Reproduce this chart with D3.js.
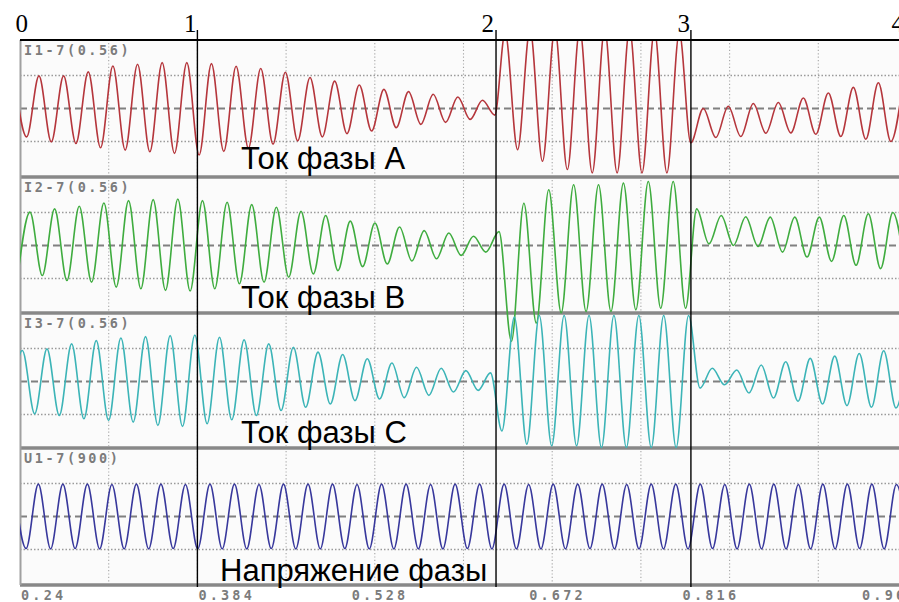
<!DOCTYPE html>
<html>
<head>
<meta charset="utf-8">
<script src="https://cdnjs.cloudflare.com/ajax/libs/d3/7.8.5/d3.min.js"></script>
<style>
  body { margin: 0; background: #fff; }
</style>
</head>
<body>
<script>
const width = 899;
const height = 602;

// ---- data ----
const channelNames = ["I1-7(0.56)", "I2-7(0.56)", "I3-7(0.56)", "U1-7(900)"];
const channelCaptions = ["Ток фазы А", "Ток фазы В", "Ток фазы С", "Напряжение фазы"];

const tickValues = [0.24, 0.384, 0.528, 0.672, 0.816, 0.96];
const tickLabels = ["0.24", "0.384", "0.528", "0.672", "0.816", "0.96"];

const markerTimes = [0.24, 0.384, 0.6264, 0.7846, 0.9584];
const markerLabels = ["0", "1", "2", "3", "4"];

// wave extremes (alternating peak / trough), 1 = dotted grid level
// each channel: start time of first extreme per segment, spacing, values
const iaStart = [0.2354, 0.6338, 0.7845];
const iaStep = [0.01, 0.0101, 0.01015];
const ia1 = [0.95, -0.86, 0.99, -1.01, 0.99, -1.06, 1.11, -1.19, 1.29, -1.26,
  1.34, -1.31, 1.39, -1.36, 1.39, -1.41, 1.36, -1.30, 1.28, -1.20,
  1.21, -1.08, 1.10, -0.98, 0.94, -0.86, 0.83, -0.76, 0.71, -0.68,
  0.58, -0.58, 0.51, -0.48, 0.43, -0.42, 0.35, -0.33, 0.25, -0.20];
const ia2 = [2.3, -1.25, 2.4, -1.6, 2.4, -1.85, 2.4, -1.95, 2.4, -1.95, 2.4, -1.95, 2.35, -1.95, 2.3];
const ia3 = [-1.04, 0.0, -0.88, 0.07, -0.85, 0.15, -0.75, 0.18, -0.74, 0.32, -0.78, 0.47, -0.85, 0.64, -0.93, 0.78, -1.0, 0.87];

const ibStart = [0.2381, 0.6288, 0.7893];
const ibStep = [0.01, 0.0101, 0.00995];
const ib1 = [-0.95, 1.01, -0.91, 1.11, -1.06, 1.19, -1.11, 1.29, -1.26, 1.36,
  -1.31, 1.39, -1.36, 1.41, -1.38, 1.36, -1.31, 1.31, -1.16, 1.24,
  -1.11, 1.16, -0.96, 1.04, -0.86, 0.91, -0.76, 0.74, -0.64, 0.68,
  -0.56, 0.56, -0.47, 0.45, -0.40, 0.38, -0.30, 0.28, -0.20];
const ib2 = [0.42, -2.9, 1.28, -2.35, 1.69, -2.04, 1.84, -2.0, 1.84, -2.0, 1.89, -1.95, 1.94, -1.9, 1.94, -1.9];
const ib3 = [1.11, 0.05, 0.91, 0.0, 0.87, -0.03, 0.86, -0.2, 0.86, -0.35, 0.86, -0.48, 0.91, -0.6, 0.96, -0.7, 1.0, -0.75];

const icStart = [0.2319, 0.6312, 0.792];
const icStep = [0.01, 0.0101, 0.00994];
const ic1 = [-0.95, 0.94, -0.98, 0.99, -1.03, 1.14, -1.13, 1.24, -1.18, 1.32,
  -1.23, 1.36, -1.33, 1.39, -1.36, 1.41, -1.28, 1.34, -1.16, 1.26,
  -1.03, 1.14, -0.88, 1.04, -0.78, 0.89, -0.68, 0.82, -0.58, 0.69,
  -0.53, 0.56, -0.49, 0.43, -0.42, 0.40, -0.32, 0.33, -0.27, 0.26];
const ic2 = [-1.5, 1.95, -1.9, 2.0, -1.95, 2.0, -1.95, 2.0, -2.0, 2.0, -2.0, 2.0, -2.0, 2.0, -2.0, 2.0];
const ic3 = [-0.2, 0.4, -0.1, 0.35, -0.35, 0.5, -0.5, 0.6, -0.6, 0.7, -0.68, 0.77, -0.73, 0.85, -0.78, 0.93, -0.8, 0.95];

const uaStart = [0.2350];
const uaStep = [0.00995];
const ua1 = [0.97, -0.97, 0.98, -0.98, 0.98, -0.97, 0.98, -0.98, 0.97, -0.98,
  0.98, -0.98, 0.98, -0.97, 0.97, -0.98, 0.98, -0.98, 0.98, -0.98,
  0.97, -0.97, 0.98, -0.98, 0.98, -0.98, 0.98, -0.97, 0.97, -0.98,
  0.98, -0.98, 0.98, -0.98, 0.97, -0.98, 0.98, -0.97, 0.98, -0.98,
  0.98, -0.98, 0.97, -0.98, 0.98, -0.98, 0.98, -0.97, 0.98, -0.98,
  0.97, -0.98, 0.98, -0.98, 0.98, -0.98, 0.98, -0.97, 0.97, -0.98,
  0.98, -0.98, 0.98, -0.98, 0.97, -0.98, 0.98, -0.98, 0.98, -0.97,
  0.98, -0.98, 0.97, -0.98];

// ---- layout ----
const left = 20, right = 899;
const panelTops = [40, 177, 313, 448];
const plotBottom = 585;
const centerOffset = 68.5, unitPx = 33;
const colors = ["#b5363c", "#3fac3f", "#3cb4b7", "#38389c"];
const tickNudge = [1, 1, -23, -23, -47, -45];
const markerNudge = [8, -1, -2, -1, -1];

function buildWave(starts, steps, segs) {
  return segs.flatMap((vals, s) => vals.map((v, i) => ({t: starts[s] + i * steps[s], v: v})));
}

const waves = [
  buildWave(iaStart, iaStep, [ia1, ia2, ia3]),
  buildWave(ibStart, ibStep, [ib1, ib2, ib3]),
  buildWave(icStart, icStep, [ic1, ic2, ic3]),
  buildWave(uaStart, uaStep, [ua1])
];

const x = d3.scaleLinear().domain([0.24, 0.96]).range([20, 907]);
const gridTimes = d3.range(1, 10).map(k => 0.24 + k * 0.072);

const svg = d3.select("body").append("svg")
  .attr("width", width)
  .attr("height", height);

svg.append("defs").append("clipPath").attr("id", "plot")
  .append("rect")
  .attr("x", left).attr("y", 41)
  .attr("width", right - left).attr("height", plotBottom - 41);

panelTops.forEach((top, i) => {
  const bottom = i < 3 ? panelTops[i + 1] : plotBottom;
  const y = d3.scaleLinear().domain([-1, 1])
    .range([top + centerOffset + unitPx, top + centerOffset - unitPx]);

  svg.append("rect")
    .attr("x", left).attr("y", top)
    .attr("width", right - left).attr("height", bottom - top)
    .attr("fill", "#fbfbfb");

  svg.append("g")
    .selectAll("line")
    .data(gridTimes)
    .enter().append("line")
      .attr("x1", d => x(d)).attr("x2", d => x(d))
      .attr("y1", top + 3).attr("y2", bottom - 2)
      .attr("stroke", "#a6a6a6")
      .attr("stroke-width", 1.1)
      .attr("stroke-dasharray", "1.2,2.2");

  svg.append("g")
    .selectAll("line")
    .data([-1, 1])
    .enter().append("line")
      .attr("x1", left).attr("x2", right)
      .attr("y1", d => y(d)).attr("y2", d => y(d))
      .attr("stroke", "#9a9a9a")
      .attr("stroke-width", 1.3)
      .attr("stroke-dasharray", "1.5,2");

  svg.append("line")
    .attr("x1", left).attr("x2", right)
    .attr("y1", y(0)).attr("y2", y(0))
    .attr("stroke", "#808080")
    .attr("stroke-width", 1.9)
    .attr("stroke-dasharray", "7,4");

  svg.append("text")
    .attr("x", 24).attr("y", top + 15)
    .attr("font-family", "DejaVu Sans Mono")
    .attr("font-weight", "bold")
    .attr("font-size", 13.5)
    .attr("letter-spacing", 2.6)
    .attr("fill", "#7c7c7c")
    .text(channelNames[i]);
});

// separators
svg.append("g")
  .selectAll("line")
  .data(panelTops.slice(1).concat([plotBottom]))
  .enter().append("line")
    .attr("x1", left).attr("x2", right)
    .attr("y1", d => d).attr("y2", d => d)
    .attr("stroke", "#888888")
    .attr("stroke-width", 3.6);

svg.append("line")
  .attr("x1", left + 0.5).attr("x2", left + 0.5)
  .attr("y1", 40).attr("y2", plotBottom)
  .attr("stroke", "#a0a0a0")
  .attr("stroke-width", 2);

// waves
const waveGroup = svg.append("g").attr("clip-path", "url(#plot)");
waves.forEach((data, i) => {
  const top = panelTops[i];
  const y = d3.scaleLinear().domain([-1, 1])
    .range([top + centerOffset + unitPx, top + centerOffset - unitPx]);
  const line = d3.line()
    .x(d => x(d.t))
    .y(d => y(d.v))
    .curve(d3.curveMonotoneX);
  waveGroup.append("path")
    .datum(data)
    .attr("fill", "none")
    .attr("stroke", colors[i])
    .attr("stroke-width", 1.6)
    .attr("stroke-linejoin", "round")
    .attr("d", line);
});

// top border
svg.append("line")
  .attr("x1", left).attr("x2", right)
  .attr("y1", 40).attr("y2", 40)
  .attr("stroke", "#000")
  .attr("stroke-width", 2);

// stage markers
svg.append("g")
  .selectAll("line")
  .data(markerTimes.slice(1, 4))
  .enter().append("line")
    .attr("x1", d => x(d)).attr("x2", d => x(d))
    .attr("y1", 30).attr("y2", 587)
    .attr("stroke", "#000")
    .attr("stroke-width", 1.4);

svg.append("g")
  .selectAll("text")
  .data(markerTimes)
  .enter().append("text")
    .attr("x", (d, i) => x(d) + markerNudge[i])
    .attr("y", 31.5)
    .attr("text-anchor", "end")
    .attr("font-family", "Liberation Serif")
    .attr("font-size", 25)
    .attr("fill", "#000")
    .text((d, i) => markerLabels[i]);

// captions
const captionBase = [169, 307.5, 443, 581];
const captionX = [241, 241, 241, 220];
svg.append("g")
  .selectAll("text")
  .data(channelCaptions)
  .enter().append("text")
    .attr("x", (d, i) => captionX[i])
    .attr("y", (d, i) => captionBase[i])
    .attr("font-family", "Liberation Sans")
    .attr("font-size", 31)
    .attr("fill", "#000")
    .text(d => d);

// time axis labels
svg.append("g")
  .selectAll("text")
  .data(tickValues)
  .enter().append("text")
    .attr("x", (d, i) => x(d) + tickNudge[i])
    .attr("y", 600)
    .attr("font-family", "DejaVu Sans Mono")
    .attr("font-weight", "bold")
    .attr("font-size", 13.5)
    .attr("letter-spacing", 3.2)
    .attr("fill", "#7c7c7c")
    .text((d, i) => tickLabels[i]);
</script>
</body>
</html>
